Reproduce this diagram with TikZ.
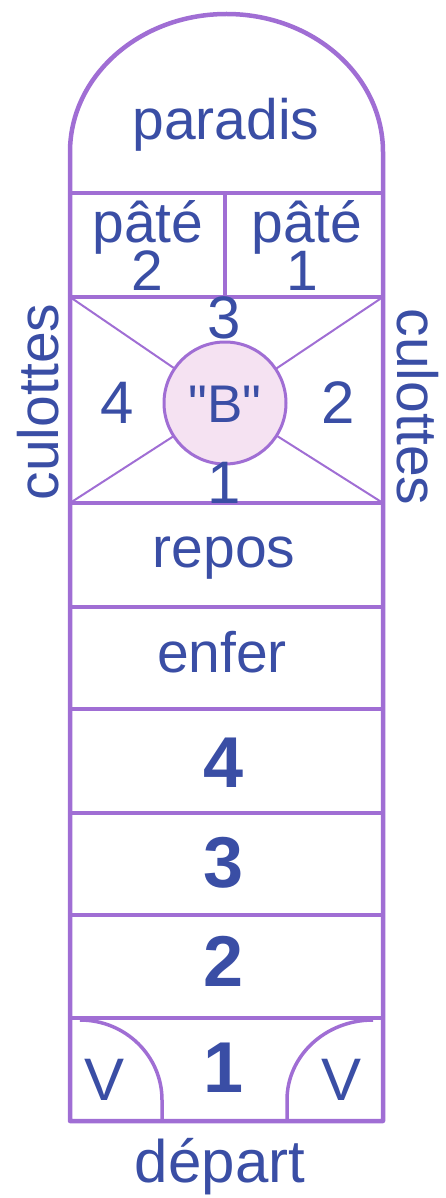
\documentclass[tikz,border=0pt]{standalone}
\usepackage{fontspec}
\setmainfont{Liberation Sans}
\definecolor{lin}{RGB}{160,110,212}
\definecolor{txt}{RGB}{58,78,165}
\definecolor{bfill}{RGB}{245,226,242}
\begin{document}
\begin{tikzpicture}[x=1pt,y=-1pt,
  frame/.style={draw=lin,line width=4.5pt,line join=round},
  thin/.style={draw=lin,line width=2pt},
  lbl/.style={text=txt,anchor=base,inner sep=0pt,font=\fontsize{57}{57}\selectfont},
  big/.style={text=txt,anchor=base,inner sep=0pt,font=\fontsize{72}{72}\selectfont\bfseries},
  mid/.style={text=txt,anchor=base,inner sep=0pt,font=\fontsize{60}{60}\selectfont}]
\useasboundingbox (0,0) rectangle (445,1198);
% named corners
\coordinate (tl) at (70,297);
\coordinate (tr) at (383,297);
\coordinate (bl) at (70,503);
\coordinate (br) at (383,503);
\coordinate (c) at (225,403);
% diagonals
\draw[thin] (tl) -- (c) -- (tr);
\draw[thin] (bl) -- (c) -- (br);
% circle
\node[circle,draw=lin,line width=3pt,fill=bfill,minimum size=122pt,inner sep=0pt] (B) at (c) {};
% outer frame and dome
\draw[frame] (70,1121) -- (70,152) arc[start angle=180,end angle=360,x radius=156.5,y radius=138] -- (383,1121) -- cycle;
% horizontal lines
\foreach \yy in {193,297,503,607,709,813,915,1018}
  \draw[frame] (70,\yy) -- (383,\yy);
\draw[frame] (225,193) -- (225,297);
% bottom arcs
\draw[frame,line width=3.5pt] (162,1121) -- (162,1100) arc[start angle=0,end angle=-90,x radius=82,y radius=80];
\draw[frame,line width=3.5pt] (287,1121) -- (287,1100) arc[start angle=180,end angle=270,x radius=86,y radius=80];
% texts
\node[lbl] (par) at (226,140) {paradis};
\node[lbl] (p2) at (148,243) {pâté};
\node[lbl] (p2n) at (147,290) {2};
\node[lbl] (p1) at (307,243) {pâté};
\node[lbl] (p1n) at (302,290) {1};
\node[mid] (s3) at (224,338) {3};
\node[mid] (s1) at (224,503) {1};
\node[mid] (s4) at (117,423) {4};
\node[mid] (s2) at (338,423) {2};
\node[text=txt,anchor=base,inner sep=0pt,font=\fontsize{53}{53}\selectfont] (bq) at (225,422) {\textquotedbl B\textquotedbl};
\node[lbl,rotate=90] (cl) at (58,402) {culottes};
\node[lbl,rotate=-90] (cr) at (397,407) {culottes};
\node[lbl] (rep) at (224,567) {repos};
\node[lbl] (enf) at (222,672) {enfer};
\node[big] (r4) at (224,787) {4};
\node[big] (r3) at (224,887) {3};
\node[big] (r2) at (224,986) {2};
\node[big] (r1) at (224,1092) {1};
\node[mid] (v1) at (105,1100) {V};
\node[mid] (v2) at (342,1100) {V};
\node[mid] (dep) at (220,1182) {départ};
\end{tikzpicture}
\end{document}
